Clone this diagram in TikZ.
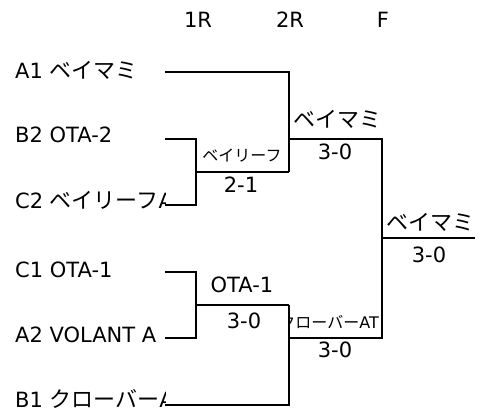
\documentclass[tikz,border=0pt]{standalone}
\usepackage{fontspec}
\setmainfont{DejaVu Sans}
\newfontfamily\jpfont{Noto Sans CJK JP}
\newcommand{\J}[1]{{\jpfont\fontsize{22}{26}\selectfont #1}}
\newcommand{\Js}[1]{{\jpfont #1}}
\begin{document}
\begin{tikzpicture}[x=1pt,y=-1pt,
  team/.style={anchor=base west, inner sep=0pt, font=\fontsize{21}{25}\selectfont},
  lbl/.style={anchor=base, inner sep=0pt, font=\fontsize{21}{25}\selectfont},
  small/.style={anchor=base, inner sep=0pt, font=\fontsize{16}{19}\selectfont},
  bline/.style={draw=black, line width=2.2pt, line join=miter}]
\useasboundingbox (0,0) rectangle (483,412);
% headers
\node[lbl] (h1) at (198,28) {1R};
\node[lbl] (h2) at (290,28) {2R};
\node[lbl] (hf) at (383,28) {F};
% team labels (clipped at the bracket start, as in the reference)
\begin{scope}
\clip (0,0) rectangle (165,412);
\node[team] (A1) at (15,79) {A1 \J{ベイマミ}};
\node[team] (B2) at (15,143) {B2 OTA-2};
\node[team] (C2) at (15,209) {C2 \J{ベイリーフ}A};
\node[team] (C1) at (15,277) {C1 OTA-1};
\node[team] (A2) at (15,342) {A2 VOLANT A};
\node[team] (B1) at (15,407) {B1 \J{クローバー}A};
\end{scope}
% coordinates
\coordinate (a1) at (165,72);
\coordinate (b2) at (165,139);
\coordinate (c2) at (165,205);
\coordinate (c1) at (165,272);
\coordinate (a2) at (165,338);
\coordinate (b1) at (165,405);
\coordinate (m1) at (196,172);
\coordinate (m1b) at (196,205);
\coordinate (m2) at (196,305);
\coordinate (m2b) at (196,338);
\coordinate (s1) at (289,172);
\coordinate (s1t) at (289,139);
\coordinate (s2) at (289,305);
\coordinate (s2b) at (289,405);
\coordinate (s2t) at (289,338);
\coordinate (f1) at (382,139);
\coordinate (f2) at (382,338);
\coordinate (fm) at (382,238);
\coordinate (fe) at (475,238);
% bracket lines
\draw[bline] (b2) -| (m1b) -- (c2);
\draw[bline] (m1) -- (s1);
\draw[bline] (a1) -| (s1);
\draw[bline] (c1) -| (m2b) -- (a2);
\draw[bline] (m2) -- (s2);
\draw[bline] (s2) |- (b1);
\draw[bline] (s1t) -| (f2) -- (s2t);
\draw[bline] (fm) -- (fe);
% match labels
\node[small] (w1) at (242,161) {\Js{ベイリーフ}};
\node[lbl] (sc1) at (241,193) {2-1};
\node[lbl] (w2) at (337,128) {\J{ベイマミ}};
\node[lbl] (sc2) at (335,160) {3-0};
\node[lbl] (w3) at (430,231) {\J{ベイマミ}};
\node[lbl] (sc3) at (429,262) {3-0};
\node[lbl] (w4) at (242,292) {OTA-1};
\node[lbl] (sc4) at (244,328) {3-0};
\begin{scope}
\clip (289,300) rectangle (382,340);
\node[small, anchor=base east] (w5) at (379,328) {\Js{クローバー}AT};
\end{scope}
\node[lbl] (sc5) at (335,357) {3-0};
\end{tikzpicture}
\end{document}
